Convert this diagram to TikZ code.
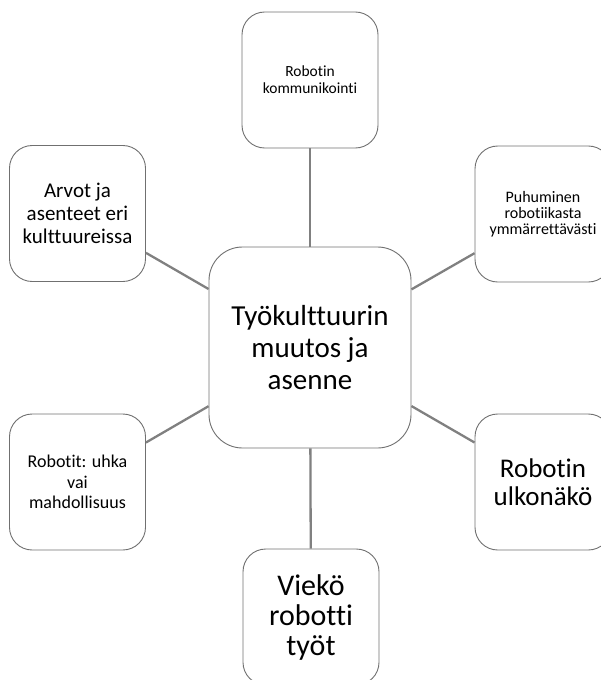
\documentclass[tikz,border=0pt]{standalone}
\usepackage{fontspec}
\setmainfont{Carlito}[Ligatures=NoCommon]
\definecolor{boxline}{RGB}{112,112,112}
\definecolor{connline}{RGB}{128,128,128}
\tikzset{
  smallbox/.style={draw=boxline, line width=0.9pt, fill=white, rectangle,
    rounded corners=22.7pt, minimum width=136pt, minimum height=136pt,
    inner sep=0pt, align=center},
  bigbox/.style={smallbox, rounded corners=33.5pt, minimum width=202pt, minimum height=201pt},
  conn/.style={draw=connline, line width=2.3pt}
}
\begin{document}
\begin{tikzpicture}[x=1pt,y=-1pt]
\useasboundingbox (0,0) rectangle (601,680);
\clip (0,0) rectangle (601,680);
\node[bigbox, font=\fontsize{29}{32}\selectfont] (c) at (310,347.5) {Työkulttuurin\\muutos ja\\asenne};
\node[smallbox, font=\fontsize{15.5}{17}\selectfont] (t) at (310,80) {Robotin\\kommunikointi};
\node[smallbox, font=\fontsize{21}{23}\selectfont] (lt) at (77.5,213.5) {Arvot ja\\asenteet eri\\kulttuureissa};
\node[smallbox, font=\fontsize{16}{16}\selectfont] (rt) at (543,214) {Puhuminen\\robotiikasta\\ymmärrettävästi};
\node[smallbox, font=\fontsize{18}{20.5}\selectfont] (lb) at (77.5,482) {Robotit: uhka\\vai\\mahdollisuus};
\node[smallbox, font=\fontsize{27}{28}\selectfont] (rb) at (543,482) {Robotin\\ulkonäkö};
\node[smallbox, font=\fontsize{30}{30}\selectfont] (b) at (311,617) {Viekö\\robotti\\työt};
\draw[conn] (c) -- (t);
\draw[conn] (c) -- (lt);
\draw[conn] (c) -- (rt);
\draw[conn] (c) -- (lb);
\draw[conn] (c) -- (rb);
\draw[conn] (c) -- (b);
\end{tikzpicture}
\end{document}
